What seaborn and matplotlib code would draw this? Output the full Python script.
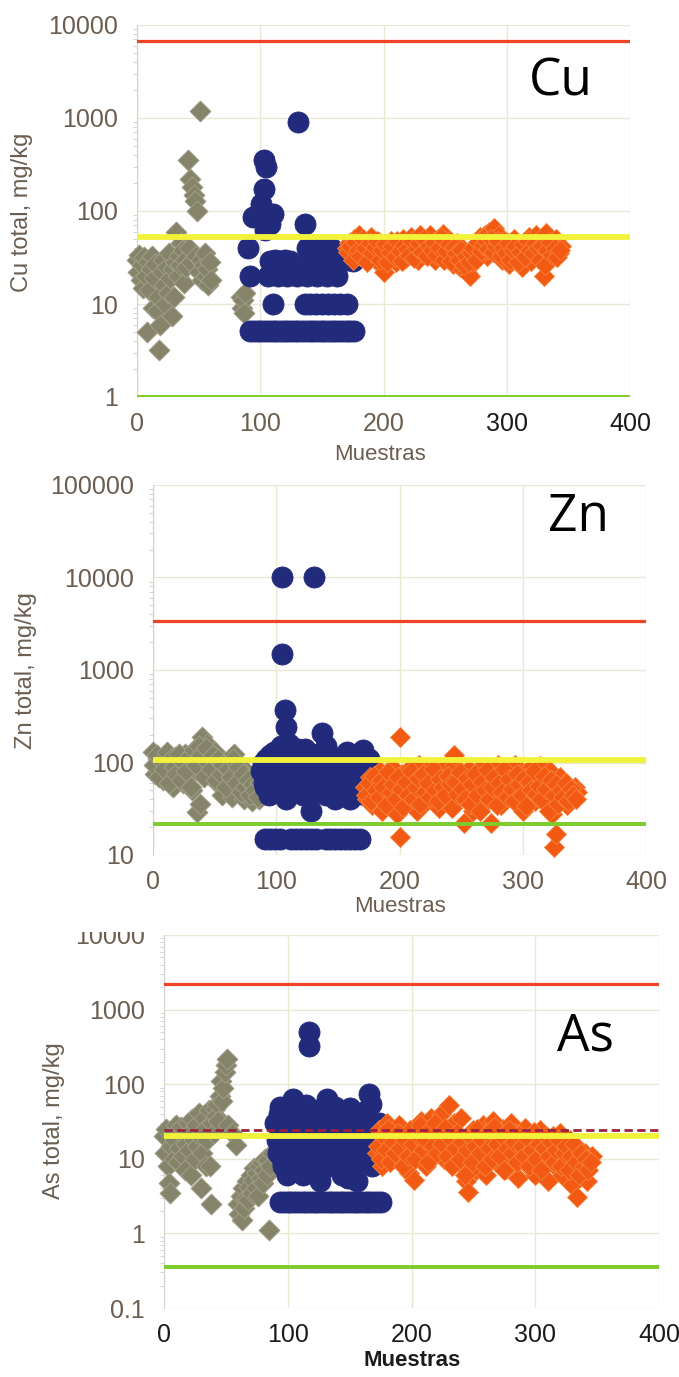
import numpy as np
import pandas as pd
import matplotlib
matplotlib.use("Agg")
import matplotlib.pyplot as plt
import seaborn as sns
from matplotlib.ticker import FixedLocator, FixedFormatter, LogLocator, NullFormatter
from matplotlib.patches import Rectangle

sns.set_style("white")
plt.rcParams["font.family"] = ["Liberation Sans", "DejaVu Sans"]

# ---------------------------------------------------------------- data
x_ticks = [0, 100, 200, 300, 400]
x_ticklabels = ["0", "100", "200", "300", "400"]

# Cu
cu_gris_x = list(range(0, 61)) + [84, 85, 86, 87, 88]
cu_gris_y = [30, 22, 34, 18, 26, 15, 32, 20, 5.0, 28, 14, 24, 33, 9.0, 19, 27, 8.5, 12, 3.2, 6.0,
             22, 30, 16, 10, 25, 13, 35, 19, 7.5, 24, 12, 28, 60, 20, 33, 26, 45, 38, 17, 30,
             25, 350, 40, 220, 28, 180, 150, 128, 33, 100, 22, 1200, 30, 18, 26, 35, 20, 24, 16, 28,
             18, 12, 9, 11, 8, 13]
cu_azul_x = [103, 105, 103, 101, 98, 110, 94, 108, 104, 131, 136, 90, 92, 110,
             138, 143, 148, 153, 157,
             108, 112, 116, 120, 124, 140, 145, 150, 155, 160, 165, 170, 175,
             106, 110, 114, 118, 122, 126, 130, 134, 138, 142, 146, 150, 154, 158, 162,
             136, 140, 145, 150, 155, 160, 165, 170,
             92, 95, 98, 101, 104, 107, 110, 113, 116, 119, 122, 125, 128, 131, 134,
             137, 140, 143, 146, 149, 152, 155, 158, 161, 164, 167, 170, 173, 176]
cu_azul_y = [350, 295, 174, 120, 93, 93, 86, 73, 62, 910, 72, 40, 20, 10,
             40, 41, 40, 39, 40,
             29, 30, 29, 30, 29, 30, 29, 30, 29, 30, 29, 30, 29,
             20, 21, 20, 21, 20, 21, 20, 21, 20, 21, 20, 21, 20, 21, 20,
             10, 10, 10, 10, 10, 10, 10, 10,
             5.1, 5.1, 5.1, 5.1, 5.1, 5.1, 5.1, 5.1, 5.1, 5.1, 5.1, 5.1, 5.1, 5.1, 5.1,
             5.1, 5.1, 5.1, 5.1, 5.1, 5.1, 5.1, 5.1, 5.1, 5.1, 5.1, 5.1, 5.1, 5.1]
# orange samples: even numbers from 170, odd numbers from 171
cu_naranja_par = [40, 45, 35, 50, 42, 55, 38, 48, 32, 44, 52, 36, 30, 46, 26, 22, 40, 33, 48, 38,
                  28, 45, 35, 50, 31, 42, 52, 36, 46, 30, 55, 40, 48, 34, 55, 42, 30, 50, 38, 56,
                  44, 33, 47, 27, 39, 45, 25, 36, 30, 22, 20, 28, 42, 35, 52, 40, 55, 33, 60, 45,
                  65, 38, 55, 30, 48, 36, 27, 44, 50, 32, 40, 25, 46, 35, 52, 29, 42, 55, 36, 48,
                  20, 58, 32, 44, 38, 50, 35, 42]
cu_naranja_impar = [36, 42, 30, 46, 38, 33, 50, 40, 28, 45, 35, 41, 48, 30, 38, 44, 28, 36, 42, 32,
                    47, 37, 29, 43, 39, 34, 48, 31, 40, 45, 36, 50, 33, 42, 38, 46, 34, 40, 52, 30,
                    37, 44, 29, 41, 35, 30, 38, 26, 33, 28, 35, 40, 30, 46, 37, 43, 48, 39, 50, 36,
                    42, 47, 33, 40, 35, 45, 30, 38, 42, 28, 36, 44, 32, 48, 38, 35, 45, 40, 30, 42,
                    26, 38, 46, 34, 40, 32, 38]
cu_guias = [6700, 52, 1.0]          # red, yellow, green reference levels

# Zn
zn_gris_par = [130, 75, 110, 90, 65, 120, 85, 100, 55, 115, 80, 95, 60, 125, 70, 105, 50, 140, 29, 36,
               190, 85, 160, 110, 75, 130, 60, 95, 45, 80, 55, 100, 42, 125, 65, 50, 90, 40, 70, 45,
               38, 60, 48, 40, 55]
zn_gris_impar = [95, 120, 70, 105, 85, 130, 60, 110, 90, 75, 125, 65, 100, 80, 115, 55, 135, 95, 150, 120,
                 70, 145, 100, 85, 120, 65, 110, 75, 95, 55, 85, 70, 110, 60, 90, 48, 75, 55, 65, 45,
                 58, 50, 42, 62]
zn_azul_x = [105, 131, 105, 107, 108, 110, 137, 140, 170] + list(range(88, 177, 2)) + \
            list(range(89, 177, 2)) + \
            [91, 95, 99, 103, 112, 116, 120, 124, 128, 132, 140, 144, 148, 152, 156, 160, 164, 168]
zn_azul_y = [10000, 10000, 1500, 370, 245, 160, 210, 150, 135,
             80, 60, 110, 45, 90, 130, 70, 50, 150, 85, 40, 120, 65, 95, 55, 140, 75, 45, 105, 60,
             30, 90, 50, 125, 70, 100, 45, 85, 60, 115, 40, 75, 95, 55, 110, 65, 40, 85, 120, 50,
             70, 100, 45, 60, 80,
             100, 55, 75, 120, 48, 95, 65, 110, 80, 45, 130, 70, 90, 52, 105, 62, 85, 140, 58, 78,
             100, 48, 68, 118, 55, 92, 72, 50, 108, 82, 60, 96, 44, 75, 130, 58, 88, 66, 102, 48,
             90, 70, 55, 110,
             15, 15, 15, 15, 15, 15, 15, 15, 15, 15, 15, 15, 15, 15, 15, 15, 15, 15]
zn_naranja_par = [55, 40, 70, 35, 60, 45, 80, 30, 50, 65, 38, 90, 45, 28, 55, 75, 35, 60, 85, 42,
                  68, 30, 95, 50, 72, 38, 88, 55, 45, 80, 32, 65, 90, 48, 70, 35, 95, 55, 40, 75,
                  22, 60, 85, 45, 30, 70, 52, 90, 38, 65, 45, 22, 80, 55, 95, 35, 70, 48, 85, 60,
                  40, 95, 52, 75, 30, 65, 45, 88, 55, 38, 70, 92, 48, 62, 35, 80, 28, 55, 40, 70,
                  45, 60, 35, 50, 42, 55, 48]
zn_naranja_impar = [45, 60, 38, 72, 50, 42, 65, 55, 35, 78, 48, 58, 40, 70, 52, 33, 62, 45, 80, 40,
                    55, 68, 36, 75, 48, 60, 42, 85, 50, 38, 66, 54, 44, 72, 58, 32, 62, 46, 78, 52,
                    40, 68, 36, 58, 75, 45, 30, 62, 50, 82, 40, 55, 70, 35, 60, 48, 85, 42, 66, 52,
                    38, 75, 58, 44, 68, 34, 62, 50, 80, 46, 56, 40, 72, 52, 30, 64, 44, 58, 36, 50,
                    42, 60, 38, 52, 45, 40]
zn_naranja_extra_x = [200, 200, 244, 325, 327]
zn_naranja_extra_y = [190, 15.7, 120, 12.3, 17]
zn_guias = [3350, 107, 21.5]

# As
as_gris_x = list(range(0, 53)) + [55, 58] + list(range(60, 88))
as_gris_y = [20, 12, 25, 8, 4.7, 3.5, 15, 22, 10, 18, 28, 9, 14, 25, 27, 11, 20, 7, 16, 30,
             13, 22, 6, 34, 18, 10, 28, 15, 41, 20, 4, 12, 35, 25, 8, 18, 45, 7.9, 2.5, 30,
             22, 46, 38, 55, 32, 70, 111, 60, 90, 144, 180, 217, 28,
             22, 15.5,
             2.5, 1.8, 3.2, 1.5, 4.0, 2.2, 3.0, 5.0, 2.8, 4.2, 6.0, 3.5, 5.2, 7.5, 4.0, 6.5,
             3.2, 8.0, 5.5, 9.0, 4.8, 7.0, 10.0, 6.0, 9.5, 1.1, 8.0, 12.0]
as_azul_x = [117, 117] + list(range(90, 177, 2)) + list(range(91, 177, 2)) + list(range(94, 177, 3))
as_azul_y = [500, 330,
             30, 12, 50, 8, 25, 15, 40, 63, 10, 20, 35, 6, 45, 18, 12, 28, 8, 22, 5, 38,
             14, 63, 25, 9, 50, 16, 30, 6, 20, 40, 48, 12, 25, 5, 35, 10, 18, 45, 73, 8,
             22, 14, 30, 10,
             18, 40, 10, 28, 6, 22, 14, 35, 16, 9, 26, 12, 52, 20, 7, 32, 15, 45, 11, 24,
             18, 8, 30, 13, 42, 20, 10, 28, 16, 5.5, 36, 14, 22, 9, 40, 17, 28, 12, 55, 20,
             9, 25, 15,
             2.65, 2.65, 2.65, 2.65, 2.65, 2.65, 2.65, 2.65, 2.65, 2.65, 2.65, 2.65, 2.65, 2.65,
             2.65, 2.65, 2.65, 2.65, 2.65, 2.65, 2.65, 2.65, 2.65, 2.65, 2.65, 2.65, 2.65, 2.65]
as_naranja_par = [12, 24, 8, 18, 30, 14, 10, 22, 16, 28, 9, 20, 13, 6.5, 18, 5.2, 25, 11, 32, 15,
                  8, 22, 35, 12, 28, 18, 40, 10, 25, 52, 15, 30, 20, 9, 35, 14, 5, 3.6, 12, 24,
                  7, 16, 10, 28, 6, 20, 14, 32, 9, 18, 12, 25, 7.3, 15, 30, 10, 22, 5.5, 18, 12,
                  26, 8, 16, 20, 6, 14, 24, 10, 18, 5, 12, 20, 8, 15, 22, 6, 12, 9, 18, 4.5,
                  14, 3.1, 10, 7, 12, 5, 9, 11]
as_naranja_impar = [15, 10, 20, 13, 25, 9, 17, 12, 22, 14, 8, 18, 11, 24, 16, 10, 20, 28, 13, 18,
                    9, 24, 15, 30, 12, 20, 16, 26, 11, 19, 8, 14, 22, 10, 17, 6, 13, 20, 9, 15,
                    25, 12, 18, 8, 22, 14, 10, 27, 16, 11, 20, 7, 14, 24, 12, 17, 9, 21, 15, 11,
                    19, 8, 13, 23, 10, 16, 7, 14, 20, 11, 17, 9, 13, 18, 8, 12, 15, 7, 11, 16,
                    9, 6, 12, 8, 10, 7, 9]
as_guias = [2200, 20.5, 0.35]
as_guia_media = 24

# ---------------------------------------------------------------- style
GRIS = "#85846b"
AZUL = "#222a7c"
NARANJA = "#f25a14"
ROJO = "#ef4327"
AMARILLO = "#f3f23a"
VERDE = "#7ccc2c"
GRANATE = "#9a2142"
MARRON = "#6b5e51"
NEGRO = "#1b1b1b"

S_ROMBO = 115
S_NARANJA = 105
S_CIRCULO = 230

W, H = 679, 1377
fig = plt.figure(figsize=(W / 100, H / 100), dpi=100)


def px_axes(left, right, top, bottom):
    return [left / W, 1 - bottom / H, (right - left) / W, (bottom - top) / H]


def muestras(start, values):
    """Sample numbers for a run of values taken every second sample."""
    return list(range(start, start + 2 * len(values), 2))


def scatter_group(ax, xs, ys, marker, color, size, edge):
    df = pd.DataFrame({"Muestra": xs, "valor": ys})
    sns.scatterplot(data=df, x="Muestra", y="valor", marker=marker, color=color, s=size,
                    edgecolor=edge, linewidth=0.6, ax=ax, zorder=3, clip_on=False, legend=False)


def panel(rect, ylim, yticks, ylabels, groups, guias, xcolors, ycolor):
    ax = fig.add_axes(rect)
    ax.set_yscale("log")
    for xs, ys, marker, color, size, edge in groups:
        scatter_group(ax, xs, ys, marker, color, size, edge)
    ax.set_xlim(0, 400)
    ax.set_ylim(*ylim)
    ax.axhline(guias[0], color=ROJO, lw=2.3, zorder=5)
    ax.axhline(guias[1], color=AMARILLO, lw=4.2, zorder=5)
    ax.axhline(guias[2], color=VERDE, lw=2.8, zorder=5)
    ax.xaxis.set_major_locator(FixedLocator(x_ticks))
    ax.xaxis.set_major_formatter(FixedFormatter(x_ticklabels))
    ax.yaxis.set_major_locator(FixedLocator(yticks))
    ax.yaxis.set_major_formatter(FixedFormatter(ylabels))
    ax.yaxis.set_minor_locator(LogLocator(base=10, subs=np.arange(2, 10)))
    ax.yaxis.set_minor_formatter(NullFormatter())
    ax.tick_params(axis="x", which="major", length=0, pad=11, labelsize=18)
    ax.tick_params(axis="y", which="major", length=0, pad=14, labelsize=18)
    ax.tick_params(axis="y", which="minor", length=3, color="#cfcfcf", width=0.6, left=True)
    for lab, c in zip(ax.get_xticklabels(), xcolors):
        lab.set_color(c)
    for lab in ax.get_yticklabels():
        lab.set_color(ycolor)
    ax.grid(True, which="major", color="#e8e8d4", lw=1.0)
    ax.set_axisbelow(True)
    for side in ("top", "right", "bottom"):
        ax.spines[side].set_visible(False)
    ax.spines["left"].set_color("#d2d2d2")
    ax.spines["left"].set_linewidth(0.8)
    ax.set_xlabel("")
    ax.set_ylabel("")
    return ax


def ftext(x, y, s, **kw):
    fig.text(x / W, 1 - y / H, s, **kw)


# Cu
ax_cu = panel(px_axes(137, 630, 25, 397), (1, 10000), [1, 10, 100, 1000, 10000],
              ["1", "10", "100", "1000", "10000"],
              [(cu_gris_x, cu_gris_y, "D", GRIS, S_ROMBO, "#a3a28c"),
               (cu_azul_x, cu_azul_y, "o", AZUL, S_CIRCULO, AZUL),
               (muestras(170, cu_naranja_par) + muestras(171, cu_naranja_impar),
                cu_naranja_par + cu_naranja_impar, "D", NARANJA, S_NARANJA, "#f7823c")],
              cu_guias, [MARRON, MARRON, MARRON, NEGRO, NEGRO], MARRON)
ftext(22, 212, "Cu total, mg/kg", rotation=90, ha="center", va="center", fontsize=17, color=MARRON)
ftext(380, 454, "Muestras", ha="center", va="center", fontsize=16, color=MARRON)
ftext(561, 82, "Cu", ha="center", va="center", fontsize=37, color="black", family="Open Sans")

# Zn
ax_zn = panel(px_axes(153, 646, 485, 855), (10, 100000), [10, 100, 1000, 10000, 100000],
              ["10", "100", "1000", "10000", "100000"],
              [(muestras(0, zn_gris_par) + muestras(1, zn_gris_impar),
                zn_gris_par + zn_gris_impar, "D", GRIS, S_ROMBO, "#a3a28c"),
               (zn_azul_x, zn_azul_y, "o", AZUL, S_CIRCULO, AZUL),
               (muestras(172, zn_naranja_par) + muestras(173, zn_naranja_impar) + zn_naranja_extra_x,
                zn_naranja_par + zn_naranja_impar + zn_naranja_extra_y, "D", NARANJA, S_NARANJA, "#f7823c")],
              zn_guias, [MARRON] * 5, MARRON)
ftext(26, 671, "Zn total, mg/kg", rotation=90, ha="center", va="center", fontsize=17, color=MARRON)
ftext(400, 907, "Muestras", ha="center", va="center", fontsize=16, color=MARRON)
ftext(578, 518, "Zn", ha="center", va="center", fontsize=37, color="black", family="Open Sans")

# As
ax_as = panel(px_axes(164, 659, 935, 1308), (0.1, 10000), [0.1, 1, 10, 100, 1000, 10000],
              ["0.1", "1", "10", "100", "1000", "10000"],
              [(as_gris_x, as_gris_y, "D", GRIS, S_ROMBO, "#a3a28c"),
               (as_azul_x, as_azul_y, "o", AZUL, S_CIRCULO, AZUL),
               (muestras(172, as_naranja_par) + muestras(173, as_naranja_impar),
                as_naranja_par + as_naranja_impar, "D", NARANJA, S_NARANJA, "#f7823c")],
              as_guias, [NEGRO] * 5, MARRON)
ax_as.axhline(as_guia_media, color=GRANATE, lw=2.0, ls=(0, (3, 1.6)), zorder=6)
ftext(54, 1121, "As total, mg/kg", rotation=90, ha="center", va="center", fontsize=17, color=MARRON)
ftext(412, 1361, "Muestras", ha="center", va="center", fontsize=16, color=NEGRO, weight="bold")
ftext(585, 1037, "As", ha="center", va="center", fontsize=37, color="black", family="Open Sans")

# top strip of the lowest panel is trimmed
fig.patches.append(Rectangle((30 / W, 1 - 932 / H), 120 / W, 14 / H, transform=fig.transFigure,
                             facecolor="white", edgecolor="none", zorder=10))

fig.savefig("out.png", dpi=100, facecolor="white")
